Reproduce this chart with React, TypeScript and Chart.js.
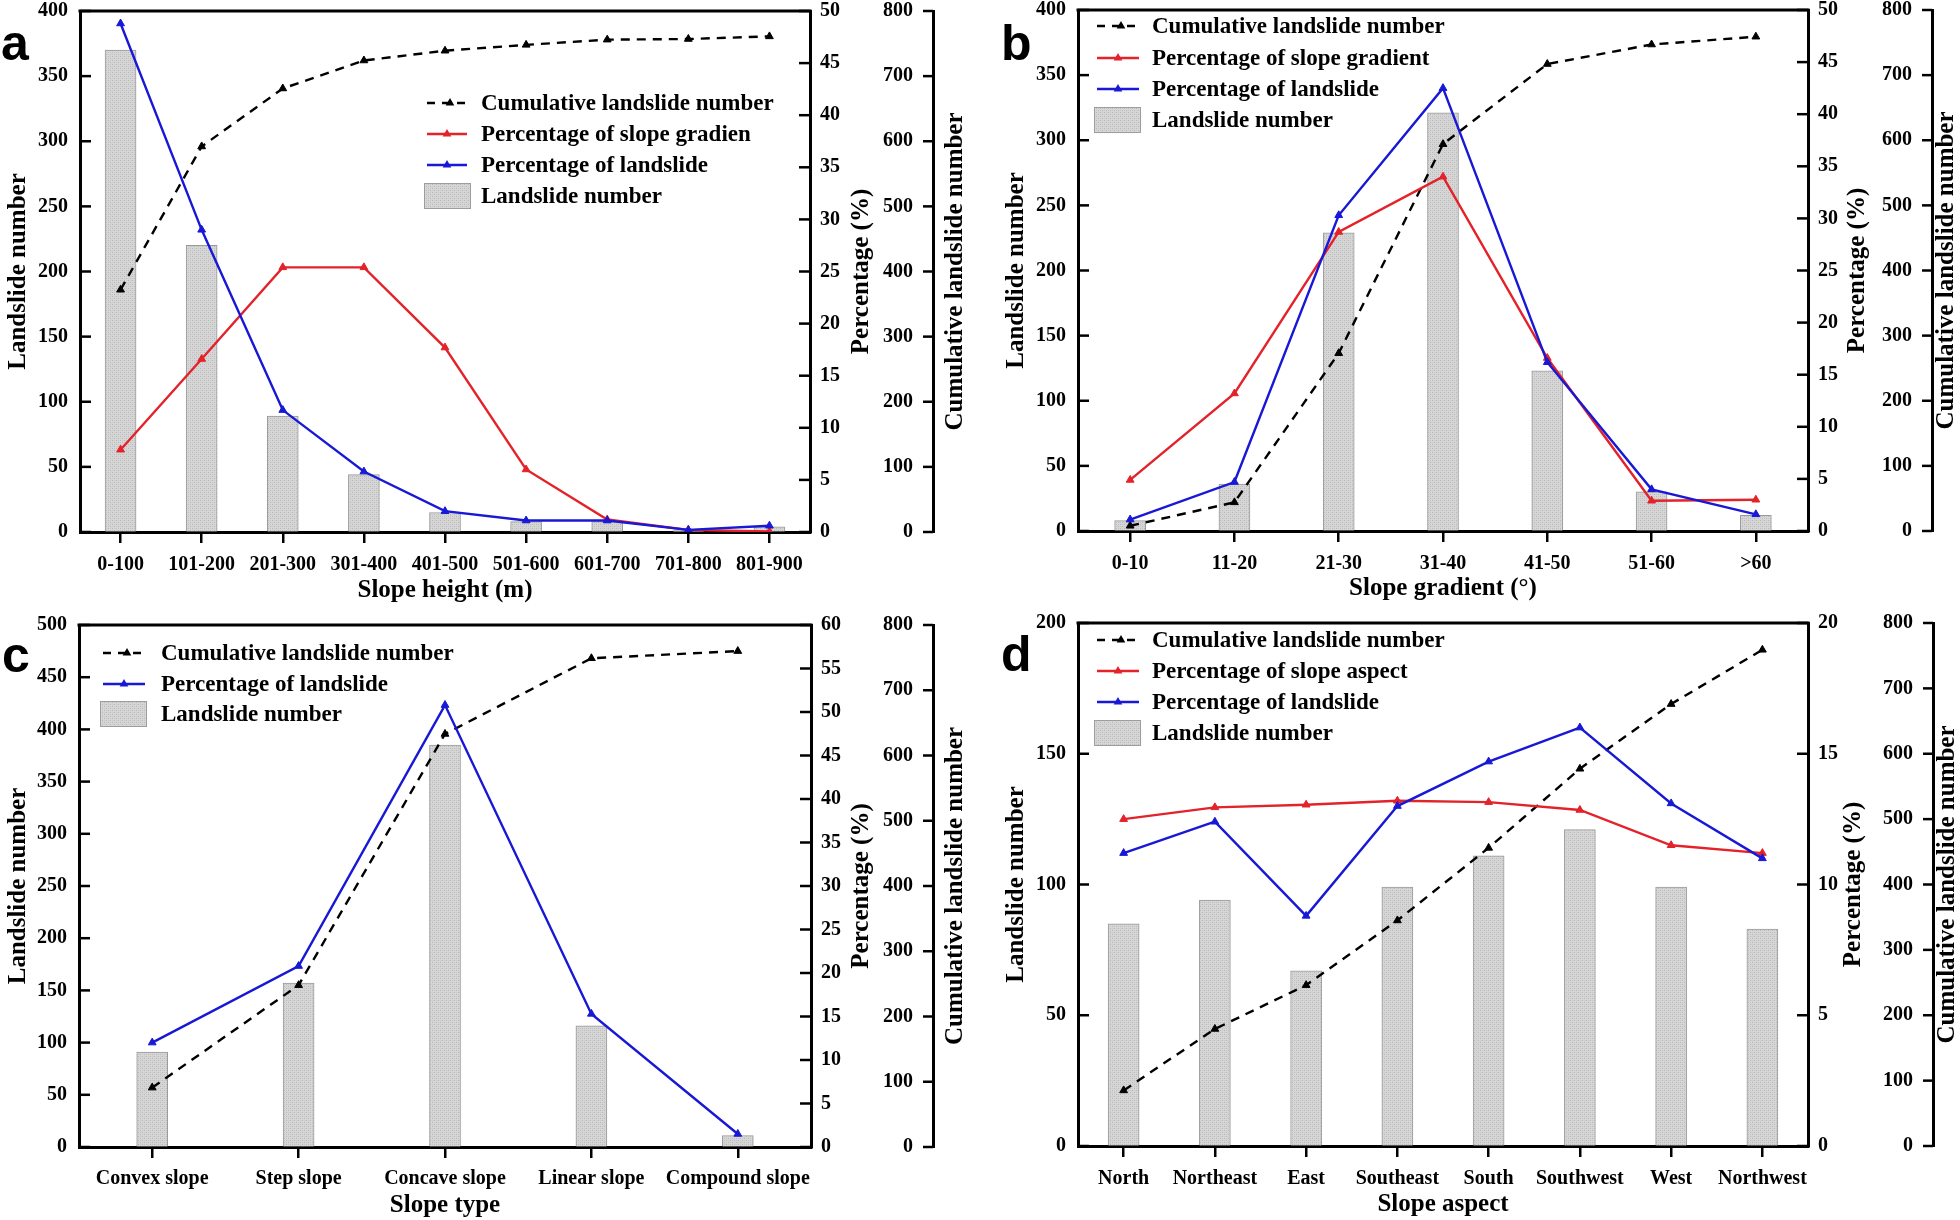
import React, { useEffect, useRef } from 'react';
import { Chart, registerables } from 'chart.js';

Chart.register(...registerables);

// ---------------- Data ----------------
// (a) Slope height
const heightCategories = ['0-100', '101-200', '201-300', '301-400', '401-500', '501-600', '601-700', '701-800', '801-900'];
const heightCounts = [370, 220, 89, 44, 15, 8, 8, 1, 4];
const heightCumulative = [372, 592, 681, 724, 739, 748, 756, 757, 761];
const heightPctSlope = [7.9, 16.6, 25.4, 25.4, 17.7, 6.0, 1.2, 0.2, 0.05];
const heightPctLandslide = [48.8, 29.0, 11.7, 5.8, 2.0, 1.1, 1.1, 0.2, 0.6];

// (b) Slope gradient
const gradientCategories = ['0-10', '11-20', '21-30', '31-40', '41-50', '51-60', '>60'];
const gradientCounts = [8, 36, 229, 321, 123, 30, 12];
const gradientCumulative = [8, 44, 273, 594, 717, 747, 759];
const gradientPctSlope = [4.9, 13.2, 28.7, 34.0, 16.6, 2.9, 3.0];
const gradientPctLandslide = [1.1, 4.7, 30.3, 42.5, 16.2, 4.0, 1.6];

// (c) Slope type
const typeCategories = ['Convex slope', 'Step slope', 'Concave slope', 'Linear slope', 'Compound slope'];
const typeCounts = [91, 157, 385, 116, 11];
const typeCumulative = [91, 248, 633, 749, 760];
const typePctLandslide = [12.0, 20.8, 50.8, 15.3, 1.5];

// (d) Slope aspect
const aspectCategories = ['North', 'Northeast', 'East', 'Southeast', 'South', 'Southwest', 'West', 'Northwest'];
const aspectCounts = [85, 94, 67, 99, 111, 121, 99, 83];
const aspectCumulative = [85, 179, 246, 345, 456, 577, 676, 759];
const aspectPctSlope = [12.5, 12.95, 13.05, 13.2, 13.15, 12.85, 11.5, 11.2];
const aspectPctLandslide = [11.2, 12.4, 8.8, 13.0, 14.7, 16.0, 13.1, 11.0];

// Axis tick settings
const leftMaxes = [400, 400, 500, 200];
const pctMaxes = [50, 50, 60, 20];
const cumMax = 800;
const leftStep = 50;
const pctStep = 5;
const cumStep = 100;

// ---------------- Styles ----------------
const RED = '#e3222a';
const BLUE = '#1818d6';
const SERIF = '"Liberation Serif", "Times New Roman", serif';
const tickFont = { family: SERIF, weight: 'bold' as const, size: 20 };
const W = 980;
const H = 610;

interface Layout {
  left: number; right: number; top: number; bottom: number; cum: number;
  leftTitleX: number; pctTitleX: number; cumTitleX: number; xTitleY: number; xPad: number;
  letterX: number; letterY: number;
  legX0: number; legX1: number; legTextX: number; legYs: number[];
}

interface PanelSpec {
  letter: string;
  categories: string[];
  counts: number[];
  cumulative: number[];
  pctSlope: number[] | null;
  slopeLabel: string;
  pctLandslide: number[];
  xTitle: string;
  leftMax: number;
  pctMax: number;
  layout: Layout;
}

const panels: { spec: PanelSpec; x: number; y: number }[] = [
  {
    x: 0, y: 0,
    spec: {
      letter: 'a', categories: heightCategories, counts: heightCounts, cumulative: heightCumulative,
      pctSlope: heightPctSlope, slopeLabel: 'Percentage of slope gradien', pctLandslide: heightPctLandslide,
      xTitle: 'Slope height (m)', leftMax: leftMaxes[0], pctMax: pctMaxes[0],
      layout: {
        left: 80, right: 810, top: 11, bottom: 532, cum: 933,
        leftTitleX: 19, pctTitleX: 862, cumTitleX: 956, xTitleY: 591, xPad: 10,
        letterX: 1, letterY: 60,
        legX0: 427, legX1: 467, legTextX: 481, legYs: [103, 134, 165, 196],
      },
    },
  },
  {
    x: 980, y: 0,
    spec: {
      letter: 'b', categories: gradientCategories, counts: gradientCounts, cumulative: gradientCumulative,
      pctSlope: gradientPctSlope, slopeLabel: 'Percentage of slope gradient', pctLandslide: gradientPctLandslide,
      xTitle: 'Slope gradient (°)', leftMax: leftMaxes[1], pctMax: pctMaxes[1],
      layout: {
        left: 98, right: 828, top: 10, bottom: 531, cum: 952,
        leftTitleX: 37, pctTitleX: 878, cumTitleX: 967, xTitleY: 589, xPad: 10,
        letterX: 21, letterY: 60,
        legX0: 117, legX1: 159, legTextX: 172, legYs: [26, 58, 89, 120],
      },
    },
  },
  {
    x: 0, y: 610,
    spec: {
      letter: 'c', categories: typeCategories, counts: typeCounts, cumulative: typeCumulative,
      pctSlope: null, slopeLabel: '', pctLandslide: typePctLandslide,
      xTitle: 'Slope type', leftMax: leftMaxes[2], pctMax: pctMaxes[2],
      layout: {
        left: 79, right: 811, top: 15, bottom: 537, cum: 933,
        leftTitleX: 19, pctTitleX: 862, cumTitleX: 956, xTitleY: 596, xPad: 9,
        letterX: 2, letterY: 62,
        legX0: 103, legX1: 145, legTextX: 161, legYs: [43, 74, 104],
      },
    },
  },
  {
    x: 980, y: 610,
    spec: {
      letter: 'd', categories: aspectCategories, counts: aspectCounts, cumulative: aspectCumulative,
      pctSlope: aspectPctSlope, slopeLabel: 'Percentage of slope aspect', pctLandslide: aspectPctLandslide,
      xTitle: 'Slope aspect', leftMax: leftMaxes[3], pctMax: pctMaxes[3],
      layout: {
        left: 98, right: 828, top: 13, bottom: 536, cum: 953,
        leftTitleX: 37, pctTitleX: 874, cumTitleX: 968, xTitleY: 595, xPad: 10,
        letterX: 21, letterY: 61,
        legX0: 117, legX1: 159, legTextX: 172, legYs: [30, 61, 92, 123],
      },
    },
  },
];

function makePattern(): CanvasPattern | string {
  const c = document.createElement('canvas');
  c.width = 4; c.height = 4;
  const g = c.getContext('2d');
  if (!g) return '#d0d0d0';
  g.fillStyle = '#d6d6d6';
  g.fillRect(0, 0, 4, 4);
  g.fillStyle = '#b8b8b8';
  g.fillRect(0, 0, 1, 1);
  g.fillRect(2, 2, 1, 1);
  g.fillStyle = '#c8c8c8';
  g.fillRect(2, 0, 1, 1);
  g.fillRect(0, 2, 1, 1);
  const p = g.createPattern(c, 'repeat');
  return p || '#d0d0d0';
}

function triangle(ctx: CanvasRenderingContext2D, x: number, y: number, r: number, color: string) {
  ctx.beginPath();
  ctx.moveTo(x, y - r);
  ctx.lineTo(x - r * 0.866, y + r * 0.5);
  ctx.lineTo(x + r * 0.866, y + r * 0.5);
  ctx.closePath();
  ctx.fillStyle = color;
  ctx.fill();
}

function decorPlugin(spec: PanelSpec, pattern: CanvasPattern | string) {
  const lay = spec.layout;
  return {
    id: 'decor' + spec.letter,
    afterDraw(chart: any) {
      const ctx: CanvasRenderingContext2D = chart.ctx;
      const { left, right, top, bottom } = chart.chartArea;
      const sy = chart.scales.y;
      const sy1 = chart.scales.y1;
      const sy2 = chart.scales.y2;
      ctx.save();
      ctx.strokeStyle = '#000';
      ctx.setLineDash([]);
      // top frame
      ctx.lineWidth = 3;
      ctx.beginPath();
      ctx.moveTo(left - 1.5, top);
      ctx.lineTo(right + 1.5, top);
      ctx.stroke();
      // inward ticks
      ctx.lineWidth = 2.5;
      const line = (x1: number, y1: number, x2: number, y2: number) => {
        ctx.beginPath(); ctx.moveTo(x1, y1); ctx.lineTo(x2, y2); ctx.stroke();
      };
      for (const t of sy.ticks) {
        const yy = sy.getPixelForValue(t.value);
        line(left, yy, left + 11, yy);
      }
      for (const t of sy1.ticks) {
        const yy = sy1.getPixelForValue(t.value);
        line(right - 11, yy, right, yy);
      }
      const cx = sy2.left;
      for (const t of sy2.ticks) {
        const yy = sy2.getPixelForValue(t.value);
        line(cx - 10, yy, cx, yy);
      }

      // axis titles
      const mid = (top + bottom) / 2;
      ctx.fillStyle = '#000';
      ctx.font = `bold 25px ${SERIF}`;
      ctx.textAlign = 'center';
      ctx.textBaseline = 'middle';
      const vtext = (txt: string, x: number) => {
        ctx.save();
        ctx.translate(x, mid);
        ctx.rotate(-Math.PI / 2);
        ctx.fillText(txt, 0, 0);
        ctx.restore();
      };
      vtext('Landslide number', lay.leftTitleX);
      vtext('Percentage (%)', lay.pctTitleX);
      vtext('Cumulative landslide number', lay.cumTitleX);
      ctx.fillText(spec.xTitle, (left + right) / 2, lay.xTitleY);

      // panel letter
      ctx.font = 'bold 50px "Liberation Sans", Arial, sans-serif';
      ctx.textAlign = 'left';
      ctx.textBaseline = 'alphabetic';
      ctx.fillText(spec.letter, lay.letterX, lay.letterY);

      // legend
      const items: { label: string; kind: string; color: string }[] = [];
      chart.data.datasets.forEach((ds: any) => {
        items.push({ label: ds.label, kind: ds.legendKind, color: ds.borderColor });
      });
      const orderMap: Record<string, number> = { dash: 0, red: 1, blue: 2, bar: 3 };
      items.sort((a, b) => orderMap[a.kind] - orderMap[b.kind]);
      ctx.font = `bold 23px ${SERIF}`;
      ctx.textBaseline = 'middle';
      items.forEach((it, i) => {
        const y = lay.legYs[i];
        const x0 = lay.legX0;
        const x1 = lay.legX1;
        if (it.kind === 'bar') {
          ctx.fillStyle = pattern as any;
          ctx.fillRect(x0 - 3, y - 13, 47, 26);
          ctx.strokeStyle = '#9d9d9d';
          ctx.lineWidth = 1;
          ctx.strokeRect(x0 - 3 + 0.5, y - 13 + 0.5, 46, 25);
        } else {
          ctx.strokeStyle = it.color;
          ctx.lineWidth = 2.4;
          if (it.kind === 'dash') ctx.setLineDash([8, 7]);
          ctx.beginPath();
          ctx.moveTo(x0, y);
          ctx.lineTo(x1, y);
          ctx.stroke();
          ctx.setLineDash([]);
          triangle(ctx, (x0 + x1) / 2 + (it.kind === 'dash' ? 3 : 0), y, 5, it.color);
        }
        ctx.fillStyle = '#000';
        ctx.fillText(it.label, lay.legTextX, y + 1);
      });
      ctx.restore();
    },
  };
}

function buildConfig(spec: PanelSpec, pattern: CanvasPattern | string): any {
  const lay = spec.layout;
  const datasets: any[] = [];
  datasets.push({
    type: 'line', label: 'Percentage of landslide', legendKind: 'blue', data: spec.pctLandslide, yAxisID: 'y1',
    borderColor: BLUE, backgroundColor: BLUE, borderWidth: 2.4, tension: 0,
    pointStyle: 'triangle', pointRadius: 4.5, pointBackgroundColor: BLUE, pointBorderColor: BLUE, pointBorderWidth: 1,
    order: 0,
  });
  if (spec.pctSlope) {
    datasets.push({
      type: 'line', label: spec.slopeLabel, legendKind: 'red', data: spec.pctSlope, yAxisID: 'y1',
      borderColor: RED, backgroundColor: RED, borderWidth: 2.4, tension: 0,
      pointStyle: 'triangle', pointRadius: 4.5, pointBackgroundColor: RED, pointBorderColor: RED, pointBorderWidth: 1,
      order: 1,
    });
  }
  datasets.push({
    type: 'line', label: 'Cumulative landslide number', legendKind: 'dash', data: spec.cumulative, yAxisID: 'y2',
    borderColor: '#000', backgroundColor: '#000', borderWidth: 2.4, borderDash: [9, 7], tension: 0,
    pointStyle: 'triangle', pointRadius: 4.5, pointBackgroundColor: '#000', pointBorderColor: '#000', pointBorderWidth: 1,
    order: 2,
  });
  datasets.push({
    type: 'bar', label: 'Landslide number', legendKind: 'bar', data: spec.counts, yAxisID: 'y',
    backgroundColor: pattern, borderColor: '#9a9a9a', borderWidth: 1, barThickness: 31,
    order: 3,
  });

  const yGrid = { display: true, drawOnChartArea: false, drawTicks: false, color: '#000' };
  const border = { display: true, width: 3, color: '#000' };

  return {
    type: 'bar',
    data: { labels: spec.categories, datasets },
    options: {
      responsive: false,
      animation: false,
      devicePixelRatio: 1,
      layout: { padding: { top: lay.top, left: 0, right: 0, bottom: 0 } },
      plugins: { legend: { display: false }, tooltip: { enabled: false }, title: { display: false } },
      scales: {
        x: {
          type: 'category', offset: true,
          grid: { display: true, drawOnChartArea: false, drawTicks: true, tickLength: 11, offset: false, lineWidth: 2.5, color: '#000' },
          border,
          ticks: { color: '#000', font: tickFont, padding: lay.xPad, maxRotation: 0, autoSkip: false },
          afterFit: (s: any) => { s.height = H - lay.bottom; s.paddingLeft = 0; s.paddingRight = 0; },
        },
        y: {
          position: 'left', min: 0, max: spec.leftMax,
          ticks: { stepSize: leftStep, color: '#000', font: tickFont, padding: 12 },
          grid: yGrid, border,
          afterFit: (s: any) => { s.width = lay.left; s.paddingTop = 0; s.paddingBottom = 0; },
        },
        y1: {
          position: 'right', min: 0, max: spec.pctMax, weight: 0,
          ticks: { stepSize: pctStep, color: '#000', font: tickFont, padding: 10 },
          grid: yGrid, border,
          afterFit: (s: any) => { s.width = lay.cum - lay.right; s.paddingTop = 0; s.paddingBottom = 0; },
        },
        y2: {
          position: 'right', min: 0, max: cumMax, weight: 1,
          // mirrored labels on a right axis sit at left + padding, right-aligned: a negative padding puts them left of the axis line
          ticks: { stepSize: cumStep, color: '#000', font: tickFont, padding: -20, mirror: true },
          grid: yGrid, border,
          afterFit: (s: any) => { s.width = W - lay.cum; s.paddingTop = 0; s.paddingBottom = 0; },
        },
      },
    },
    plugins: [decorPlugin(spec, pattern)],
  };
}

function Panel({ spec, x, y }: { spec: PanelSpec; x: number; y: number }) {
  const ref = useRef<HTMLCanvasElement | null>(null);
  useEffect(() => {
    if (!ref.current) return;
    const pattern = makePattern();
    const chart = new Chart(ref.current, buildConfig(spec, pattern));
    return () => chart.destroy();
  }, [spec]);
  return (
    <div style={{ position: 'absolute', left: x, top: y, width: W, height: H }}>
      <canvas ref={ref} width={W} height={H} style={{ width: W, height: H, display: 'block' }} />
    </div>
  );
}

export default function App() {
  return (
    <div style={{ position: 'absolute', left: 0, top: 0, width: 1960, height: 1220, background: '#fff' }}>
      {panels.map((p) => (
        <Panel key={p.spec.letter} spec={p.spec} x={p.x} y={p.y} />
      ))}
    </div>
  );
}
